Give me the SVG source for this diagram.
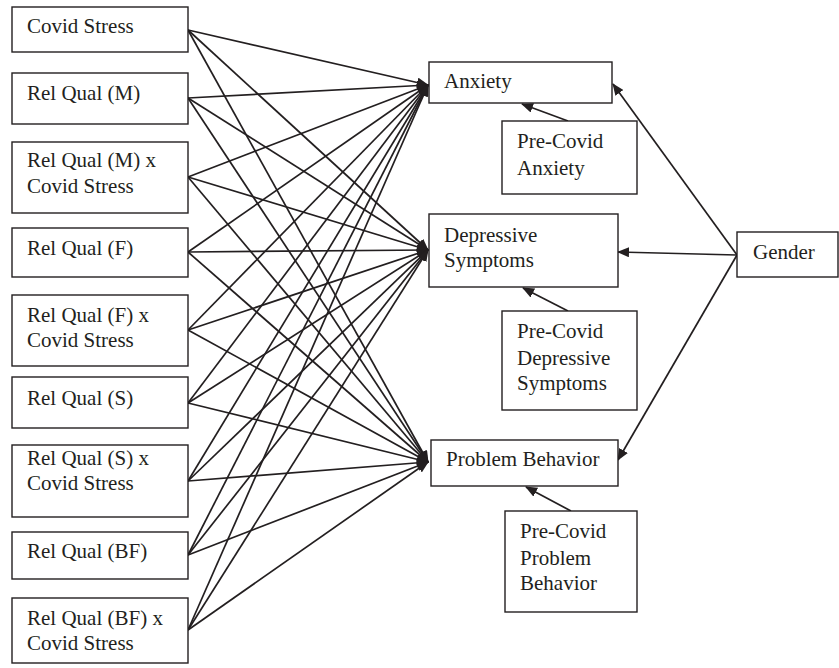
<svg xmlns="http://www.w3.org/2000/svg" width="839" height="668" viewBox="0 0 839 668">
<style>
.box{fill:#fff;stroke:#231f20;stroke-width:1.4}
.t{font-family:"Liberation Serif","Times New Roman",serif;font-size:21px;fill:#231f20}
.c{stroke:#231f20;stroke-width:1.7;fill:none;marker-end:url(#ah)}
</style>
<defs>
<marker id="ah" viewBox="0 0 12 10" markerWidth="12" markerHeight="10" refX="11" refY="5" orient="auto" markerUnits="userSpaceOnUse">
<path d="M0,0 L12,5 L0,10 z" fill="#231f20"/>
</marker>
</defs>
<rect width="839" height="668" fill="#fff"/>
<g id="connectors">
<line class="c" x1="188" y1="30" x2="428" y2="85"/>
<line class="c" x1="188" y1="30" x2="428" y2="250"/>
<line class="c" x1="188" y1="30" x2="428" y2="462"/>
<line class="c" x1="188" y1="98" x2="428" y2="85"/>
<line class="c" x1="188" y1="98" x2="428" y2="250"/>
<line class="c" x1="188" y1="98" x2="428" y2="462"/>
<line class="c" x1="188" y1="177" x2="428" y2="85"/>
<line class="c" x1="188" y1="177" x2="428" y2="250"/>
<line class="c" x1="188" y1="177" x2="428" y2="462"/>
<line class="c" x1="188" y1="252" x2="428" y2="85"/>
<line class="c" x1="188" y1="252" x2="428" y2="250"/>
<line class="c" x1="188" y1="252" x2="428" y2="462"/>
<line class="c" x1="188" y1="330" x2="428" y2="85"/>
<line class="c" x1="188" y1="330" x2="428" y2="250"/>
<line class="c" x1="188" y1="330" x2="428" y2="462"/>
<line class="c" x1="188" y1="403" x2="428" y2="85"/>
<line class="c" x1="188" y1="403" x2="428" y2="250"/>
<line class="c" x1="188" y1="403" x2="428" y2="462"/>
<line class="c" x1="188" y1="481" x2="428" y2="85"/>
<line class="c" x1="188" y1="481" x2="428" y2="250"/>
<line class="c" x1="188" y1="481" x2="428" y2="462"/>
<line class="c" x1="188" y1="555" x2="428" y2="85"/>
<line class="c" x1="188" y1="555" x2="428" y2="250"/>
<line class="c" x1="188" y1="555" x2="428" y2="462"/>
<line class="c" x1="188" y1="630" x2="428" y2="85"/>
<line class="c" x1="188" y1="630" x2="428" y2="250"/>
<line class="c" x1="188" y1="630" x2="428" y2="462"/>
<line class="c" x1="568" y1="121" x2="522" y2="104"/>
<line class="c" x1="568" y1="311" x2="523" y2="288"/>
<line class="c" x1="571" y1="511" x2="526" y2="487"/>
<line class="c" x1="737" y1="255" x2="613" y2="84"/>
<line class="c" x1="737" y1="255" x2="618" y2="252"/>
<line class="c" x1="737" y1="255" x2="618" y2="460"/>
</g>
<g id="covid-stress"><rect class="box" x="12" y="7" width="176" height="45"/><text class="t" x="27" y="33">Covid Stress</text></g>
<g id="rel-qual-m"><rect class="box" x="12" y="73" width="176" height="51"/><text class="t" x="27" y="100">Rel Qual (M)</text></g>
<g id="rel-qual-m-x"><rect class="box" x="12" y="142" width="176" height="71"/><text class="t" x="27" y="167">Rel Qual (M) x</text><text class="t" x="27" y="193">Covid Stress</text></g>
<g id="rel-qual-f"><rect class="box" x="12" y="228" width="176" height="49"/><text class="t" x="27" y="255">Rel Qual (F)</text></g>
<g id="rel-qual-f-x"><rect class="box" x="12" y="295" width="176" height="71"/><text class="t" x="27" y="322">Rel Qual (F) x</text><text class="t" x="27" y="347">Covid Stress</text></g>
<g id="rel-qual-s"><rect class="box" x="12" y="377" width="176" height="51"/><text class="t" x="27" y="405">Rel Qual (S)</text></g>
<g id="rel-qual-s-x"><rect class="box" x="12" y="445" width="176" height="72"/><text class="t" x="27" y="465">Rel Qual (S) x</text><text class="t" x="27" y="490">Covid Stress</text></g>
<g id="rel-qual-bf"><rect class="box" x="12" y="532" width="176" height="47"/><text class="t" x="27" y="558">Rel Qual (BF)</text></g>
<g id="rel-qual-bf-x"><rect class="box" x="12" y="598" width="176" height="65"/><text class="t" x="27" y="625">Rel Qual (BF) x</text><text class="t" x="27" y="650">Covid Stress</text></g>
<g id="anxiety"><rect class="box" x="429" y="62" width="183" height="41"/><text class="t" x="444" y="88">Anxiety</text></g>
<g id="pre-anxiety"><rect class="box" x="502" y="121" width="135" height="73"/><text class="t" x="517" y="148">Pre-Covid</text><text class="t" x="517" y="175">Anxiety</text></g>
<g id="depressive"><rect class="box" x="429" y="214" width="189" height="73"/><text class="t" x="444" y="242">Depressive</text><text class="t" x="444" y="267">Symptoms</text></g>
<g id="pre-depressive"><rect class="box" x="502" y="311" width="135" height="99"/><text class="t" x="517" y="338">Pre-Covid</text><text class="t" x="517" y="365">Depressive</text><text class="t" x="517" y="390">Symptoms</text></g>
<g id="problem"><rect class="box" x="431" y="440" width="187" height="46"/><text class="t" x="446" y="466">Problem Behavior</text></g>
<g id="pre-problem"><rect class="box" x="505" y="511" width="132" height="101"/><text class="t" x="520" y="538">Pre-Covid</text><text class="t" x="520" y="565">Problem</text><text class="t" x="520" y="590">Behavior</text></g>
<g id="gender"><rect class="box" x="737" y="232" width="101" height="45"/><text class="t" x="753" y="259">Gender</text></g>
</svg>
